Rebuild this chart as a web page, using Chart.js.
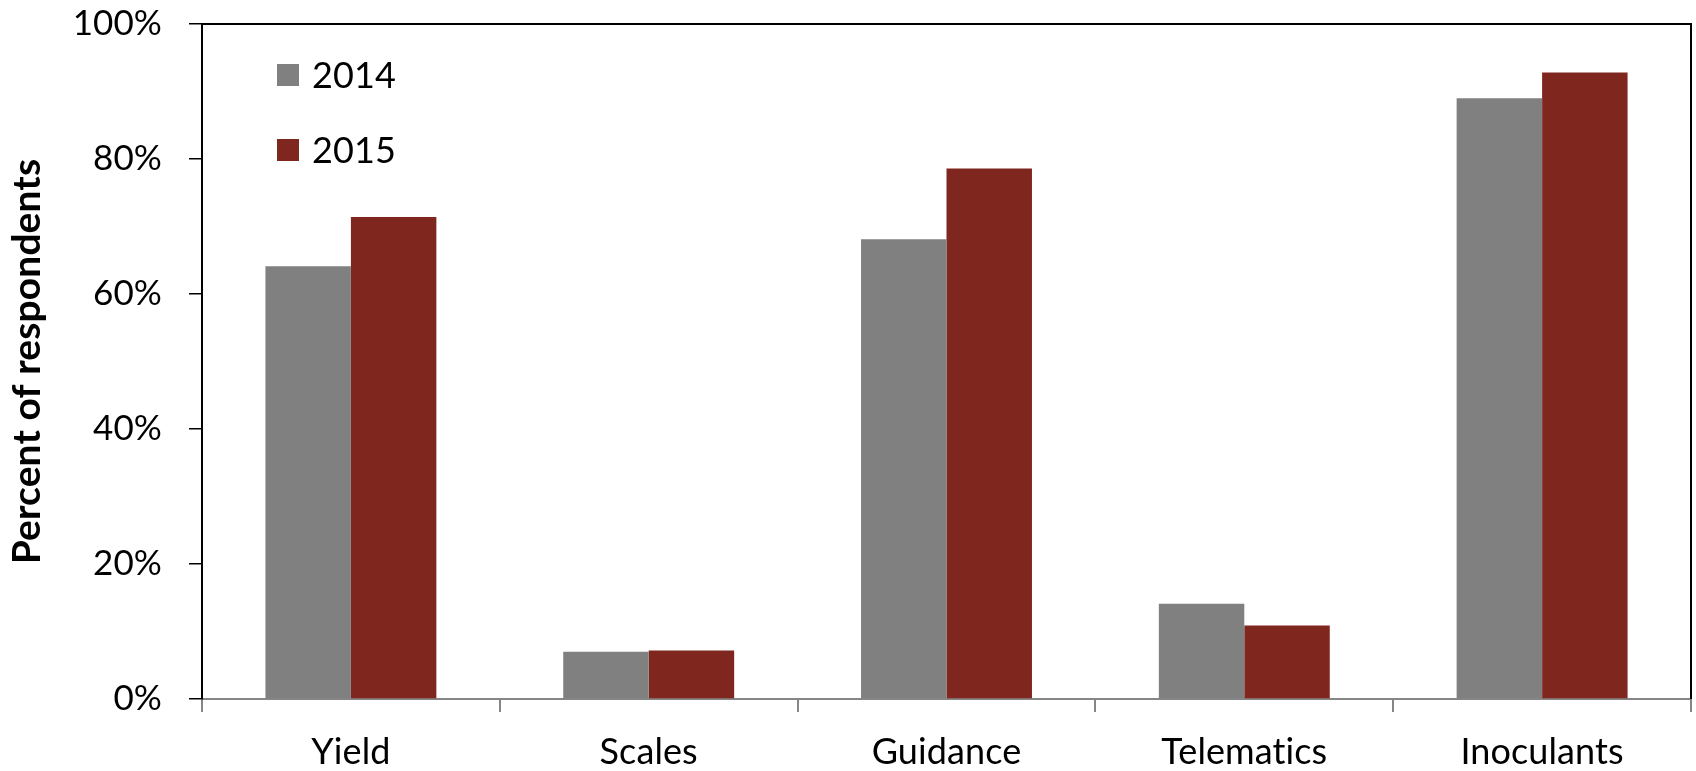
<!DOCTYPE html>
<html>
<head>
<meta charset="utf-8">
<title>Percent of respondents</title>
<script src="https://cdn.jsdelivr.net/npm/chart.js@4.4.1/dist/chart.umd.min.js"></script>
<style>
  html, body { margin: 0; padding: 0; background: #fff; }
  #wrap { width: 1696px; height: 771px; }
</style>
</head>
<body>
<div id="wrap"><canvas id="chart" width="1696" height="771"></canvas></div>
<script>
// values (percent of respondents)
const categories = ['Yield', 'Scales', 'Guidance', 'Telematics', 'Inoculants'];
const seriesNames = ['2014', '2015'];
const values2014 = [64.1, 7.0, 68.1, 14.1, 89.0];
const values2015 = [71.4, 7.2, 78.6, 10.9, 92.8];
const yTicks = [0, 20, 40, 60, 80, 100];
const seriesColors = ['#808080', '#7f261f'];

const FONT = 'Lato';

// a tiny letter spacing stops the "ti" ligature in Lato
const noLigatures = {
    id: 'noLigatures',
    beforeDraw(chart) {
        if ('letterSpacing' in chart.ctx) chart.ctx.letterSpacing = '0.1px';
    }
};

// legend is stacked inside the plot, top left
const insideLegend = {
    id: 'insideLegend',
    afterDatasetsDraw(chart) {
        const { ctx, chartArea } = chart;
        ctx.save();
        ctx.font = '36px ' + FONT;
        ctx.textBaseline = 'middle';
        ctx.textAlign = 'left';
        chart.data.datasets.forEach((ds, i) => {
            const x = chartArea.left + 75;
            const y = chartArea.top + 51 + i * 75;
            ctx.fillStyle = ds.backgroundColor;
            ctx.fillRect(x, y - 11, 22, 22);
            ctx.fillStyle = '#000';
            ctx.fillText(ds.label, x + 35, y + 1);
        });
        ctx.restore();
    }
};

// black top and right edges of the plot box
const plotFrame = {
    id: 'plotFrame',
    afterDraw(chart) {
        const { ctx, chartArea } = chart;
        ctx.save();
        ctx.strokeStyle = '#000';
        ctx.lineWidth = 2;
        ctx.beginPath();
        ctx.moveTo(chartArea.left, chartArea.top);
        ctx.lineTo(chartArea.right, chartArea.top);
        ctx.lineTo(chartArea.right, chartArea.bottom);
        ctx.stroke();
        ctx.restore();
    }
};

const ctx = document.getElementById('chart').getContext('2d');

new Chart(ctx, {
    type: 'bar',
    data: {
        labels: categories,
        datasets: [
            { label: seriesNames[0], data: values2014, backgroundColor: seriesColors[0] },
            { label: seriesNames[1], data: values2015, backgroundColor: seriesColors[1] }
        ]
    },
    options: {
        responsive: false,
        animation: false,
        devicePixelRatio: 1,
        layout: { padding: { top: 24, right: 5, left: 0, bottom: 0 } },
        datasets: {
            bar: { categoryPercentage: 0.574, barPercentage: 1.0, borderWidth: 0 }
        },
        scales: {
            x: {
                grid: {
                    drawOnChartArea: false,
                    color: '#868686',
                    lineWidth: 2,
                    tickLength: 13
                },
                border: { color: '#868686', width: 2 },
                ticks: {
                    color: '#000',
                    padding: 19,
                    font: { family: FONT, size: 36 }
                },
                afterFit: (scale) => { scale.height = 72; }
            },
            y: {
                min: 0,
                max: 100,
                afterBuildTicks: (scale) => { scale.ticks = yTicks.map(v => ({ value: v })); },
                grid: {
                    drawOnChartArea: false,
                    color: '#000',
                    lineWidth: 1.5,
                    tickLength: 13
                },
                border: { color: '#000', width: 2 },
                ticks: {
                    color: '#000',
                    padding: 27,
                    font: { family: FONT, size: 35 },
                    callback: (v) => v + '%'
                },
                title: {
                    display: true,
                    text: 'Percent of respondents',
                    color: '#000',
                    font: { family: FONT, size: 39, weight: 'bold', lineHeight: 1.2 },
                    padding: { top: 4, bottom: 0 }
                },
                afterFit: (scale) => {
                    scale.width = 202;
                    scale.paddingTop = 0;
                    scale.paddingBottom = 0;
                }
            }
        },
        plugins: {
            legend: { display: false },
            tooltip: { enabled: false }
        }
    },
    plugins: [noLigatures, insideLegend, plotFrame]
});
</script>
</body>
</html>
